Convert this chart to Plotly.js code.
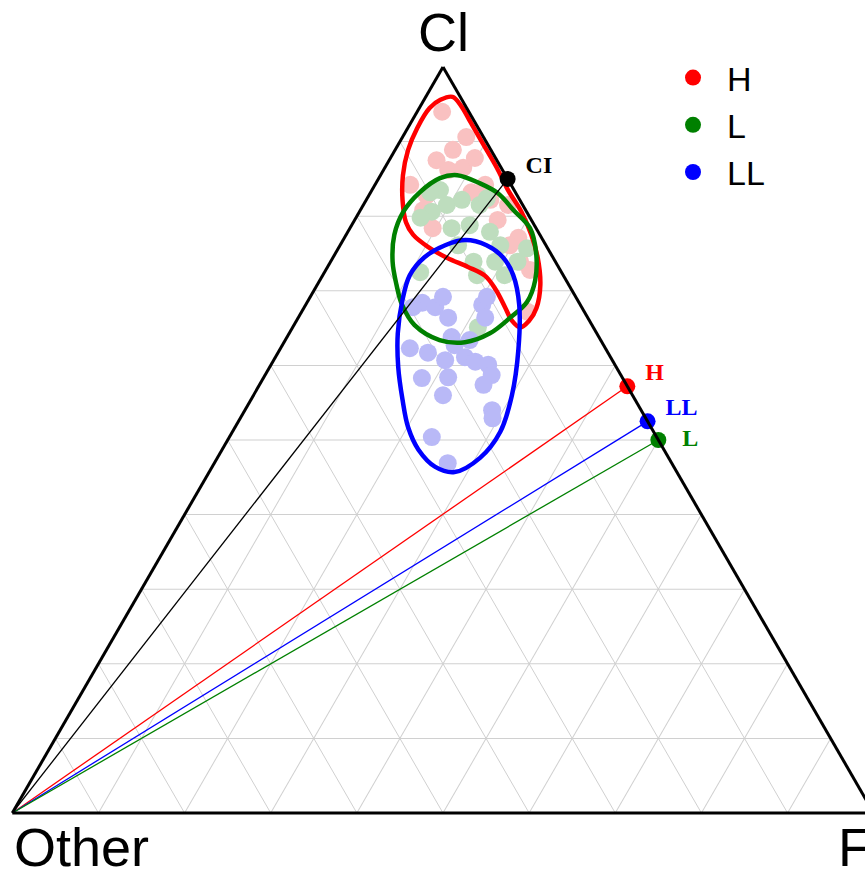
<!DOCTYPE html>
<html><head><meta charset="utf-8">
<script src="https://cdn.plot.ly/plotly-3.0.1.min.js"></script>
<style>html,body{margin:0;padding:0;overflow:hidden;background:#fff}</style>
</head><body><div id="chart" style="width:886px;height:876px"></div>
<script>
// Composition values in percent: Cl (top), F (bottom right); Other = remainder
const groups = ['H', 'L', 'LL'];

// Sample point clouds
const hCl = [94.0, 90.6, 88.9, 87.5, 86.2, 86.5, 87.8, 83.2, 84.2, 82.8, 84.2, 80.8, 78.4, 79.5, 81.5, 77.1, 73.9, 72.8, 67.2, 82.2, 76.1];
const hF  = [2.9, 7.4, 6.7, 5.5, 7.5, 9.1, 9.8, 11.7, 4.1, 6.7, 12.8, 7.3, 9.6, 16.6, 16.8, 20.2, 22.0, 23.7, 26.2, 14.4, 19.7];

const lCl = [81.5, 82.2, 81.5, 78.8, 78.4, 80.6, 79.8, 77.9, 76.1, 73.9, 72.1, 72.5, 73.9, 75.7, 65.1, 82.4, 83.5, 76.1, 72.1, 73.9, 83.2];
const lF  = [9.7, 11.1, 13.5, 13.7, 11.8, 8.4, 7.5, 16.5, 18.6, 16.6, 17.9, 11.1, 21.7, 21.9, 21.5, 13.9, 7.9, 13.7, 21.1, 19.1, 6.9];

const llCl = [68.4, 67.8, 66.4, 68.1, 66.4, 62.3, 61.7, 63.8, 60.7, 61.1, 60.5, 60.1, 58.7, 58.3, 58.4, 57.4, 56.0, 54.0, 52.9, 50.4, 46.9, 67.8, 69.2, 69.2, 62.7, 63.4];
const llF  = [13.4, 15.2, 17.4, 20.5, 21.7, 15.0, 17.4, 19.1, 19.9, 22.0, 23.5, 25.2, 26.3, 18.4, 21.4, 26.0, 22.0, 28.7, 29.3, 23.5, 27.1, 12.6, 15.4, 20.5, 20.0, 21.4];

// Density contours
const hContourCl = [96.0, 95.6, 94.5, 91.8, 88.9, 85.5, 82.2, 79.2, 77.5, 75.9, 74.4, 73.2, 72.0, 70.1, 67.8, 66.0, 65.1, 66.0, 67.7, 70.8, 74.4, 77.5, 80.6, 83.5, 86.5, 89.5, 92.6, 94.8, 96.0];
const hContourF  = [3.1, 1.9, 1.2, 1.1, 1.5, 2.6, 4.2, 6.1, 7.8, 10.3, 13.3, 16.3, 18.9, 21.1, 23.3, 25.0, 26.4, 27.0, 27.0, 25.9, 23.8, 21.5, 18.8, 15.8, 13.0, 10.0, 6.9, 4.7, 3.1];

const lContourCl = [85.5, 85.1, 83.2, 80.6, 77.5, 73.9, 70.8, 68.1, 65.4, 63.4, 63.1, 64.3, 66.4, 68.5, 71.4, 75.2, 78.4, 80.8, 83.1, 84.4, 85.5];
const lContourF  = [8.9, 7.1, 5.7, 5.1, 5.6, 7.2, 9.2, 11.2, 14.0, 17.9, 21.0, 23.3, 24.6, 25.5, 25.0, 23.2, 20.9, 17.8, 14.8, 12.1, 8.9];

const llContourCl = [76.8, 76.1, 74.5, 72.1, 68.8, 64.3, 59.8, 55.4, 51.7, 48.7, 46.4, 45.7, 47.6, 51.1, 56.0, 62.1, 68.1, 72.1, 74.5, 76.1, 76.8];
const llContourF  = [14.2, 12.2, 10.6, 10.1, 10.9, 12.6, 14.9, 17.6, 20.1, 22.8, 25.9, 28.5, 30.5, 31.1, 30.0, 27.7, 24.8, 22.1, 19.7, 17.0, 14.2];

// End members on the Cl–F edge, joined to the "Other" vertex
const endLabels = ['CI', 'H', 'LL', 'L'];
const endCl = [85.0, 57.2, 52.5, 50.0];
const endF  = [15.0, 42.8, 47.5, 50.0];
const originCl = 0, originF = 0;

const strong = {CI: '#000000', H: '#FF0000', L: '#008000', LL: '#0000FF'};
const pale = {H: '#F9C1C1', L: '#BEDDBE', LL: '#B9B9F7'};
const cloudCl = {H: hCl, L: lCl, LL: llCl};
const cloudF = {H: hF, L: lF, LL: llF};
const contCl = {H: hContourCl, L: lContourCl, LL: llContourCl};
const contF = {H: hContourF, L: lContourF, LL: llContourF};

const traces = [];
groups.forEach(g => traces.push({
  type: 'scatterternary', mode: 'markers', a: cloudCl[g], c: cloudF[g],
  marker: {size: 18, color: pale[g]}, showlegend: false, hoverinfo: 'skip'
}));
groups.forEach(g => traces.push({
  type: 'scatterternary', mode: 'lines', a: contCl[g], c: contF[g],
  line: {color: strong[g], width: 4.5, shape: 'spline', smoothing: 1},
  showlegend: false, hoverinfo: 'skip'
}));
endLabels.forEach((lab, i) => traces.push({
  type: 'scatterternary', mode: 'lines', a: [originCl, endCl[i]], c: [originF, endF[i]],
  line: {color: strong[lab], width: 1.3}, showlegend: false, hoverinfo: 'skip', cliponaxis: false
}));
const ci = endLabels.indexOf('CI');
traces.push({
  type: 'scatterternary', mode: 'markers', a: [endCl[ci]], c: [endF[ci]],
  marker: {size: 16, color: strong.CI}, showlegend: false, cliponaxis: false, name: 'CI'
});
groups.forEach(g => {
  const i = endLabels.indexOf(g);
  traces.push({
    type: 'scatterternary', mode: 'markers', a: [endCl[i]], c: [endF[i]], name: g,
    marker: {size: 16, color: strong[g]}, showlegend: true, cliponaxis: false
  });
});
const nb = '\u00a0';
traces.push({
  type: 'scatterternary', mode: 'text', a: endCl, c: endF,
  text: endLabels.map(l => (l === 'L' ? nb + nb + nb + nb : nb + nb + nb) + '<b>' + l + '</b>'),
  textposition: endLabels.map(l => l === 'L' ? 'middle right' : 'top right'),
  textfont: {family: 'Liberation Serif, Times New Roman, serif', size: 24, color: endLabels.map(l => strong[l])},
  showlegend: false, cliponaxis: false, hoverinfo: 'skip'
});

const ax = {
  showticklabels: false, ticks: '', linecolor: '#000000', linewidth: 3,
  showgrid: true, gridcolor: '#d0d0d0', gridwidth: 1, dtick: 10, title: {text: ''}
};
const titleFont = {family: 'Liberation Sans, Arial, sans-serif', size: 54, color: '#000000'};
const layout = {
  width: 886, height: 876,
  margin: {l: 0, r: 0, t: 67, b: 63},
  paper_bgcolor: '#ffffff',
  ternary: {sum: 100, bgcolor: '#ffffff', aaxis: ax, baxis: ax, caxis: ax},
  showlegend: true,
  legend: {x: 0.7438, y: 1.0241, xanchor: 'left', yanchor: 'top', itemwidth: 58,
    bgcolor: 'rgba(0,0,0,0)',
    font: {family: 'Liberation Sans, Arial, sans-serif', size: 34, color: '#000000'}},
  annotations: [
    {text: 'Cl', xref: 'paper', yref: 'paper', x: 0.5, y: 1.047, xanchor: 'center', yanchor: 'middle', showarrow: false, font: titleFont},
    {text: 'Other', xref: 'paper', yref: 'paper', x: 0.0135, y: -0.046, xanchor: 'left', yanchor: 'middle', showarrow: false, font: titleFont},
    {text: 'F', xref: 'paper', yref: 'paper', x: 0.9436, y: -0.046, xanchor: 'left', yanchor: 'middle', showarrow: false, font: titleFont}
  ]
};
Plotly.newPlot('chart', traces, layout, {displayModeBar: false, staticPlot: true});
</script></body></html>
